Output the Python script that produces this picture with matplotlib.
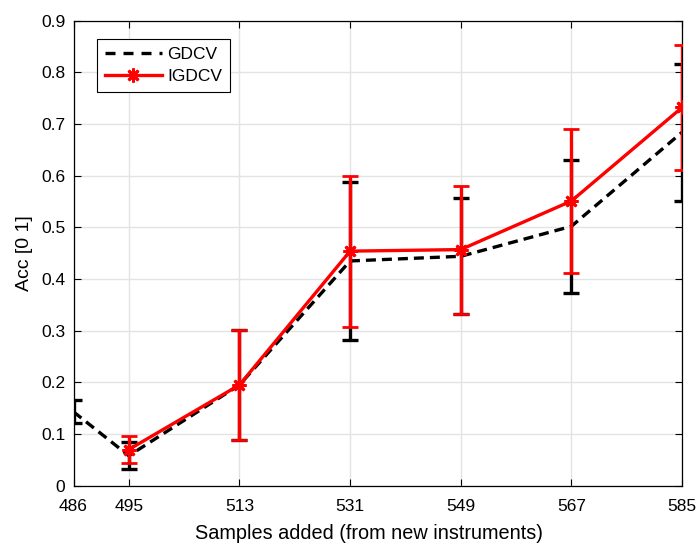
import matplotlib
matplotlib.use("Agg")
import matplotlib.pyplot as plt
from matplotlib.lines import Line2D

plt.rcParams['font.family'] = ['Liberation Sans', 'DejaVu Sans']

x_gdcv = [486, 495, 513, 531, 549, 567, 585]
gdcv = [0.143, 0.058, 0.195, 0.435, 0.444, 0.502, 0.684]
gdcv_err = [0.022, 0.026, 0.106, 0.153, 0.112, 0.129, 0.133]

x_igdcv = [495, 513, 531, 549, 567, 585]
igdcv = [0.070, 0.195, 0.454, 0.457, 0.551, 0.732]
igdcv_err = [0.027, 0.106, 0.146, 0.124, 0.140, 0.121]

xticks = [486, 495, 513, 531, 549, 567, 585]

W, H = 699, 548
L, R, T, B = 73.5, 682, 20.7, 485.7
fig = plt.figure(figsize=(W/100, H/100), dpi=100)
ax = fig.add_axes([L/W, 1-B/H, (R-L)/W, (B-T)/H])

LW = 2.4
ax.errorbar(x_gdcv, gdcv, yerr=gdcv_err, color='black', linestyle='--', linewidth=LW,
            dashes=(3, 1.8), capsize=5.5, capthick=LW, elinewidth=LW, zorder=3)
ax.errorbar(x_igdcv, igdcv, yerr=igdcv_err, color='#ff0000', linestyle='-', linewidth=LW,
            marker=(8, 2, 0), markersize=10, markeredgewidth=2, capsize=5.5, capthick=LW,
            elinewidth=LW, zorder=4)

ax.set_xlim(486, 585)
ax.set_ylim(0, 0.9)
ax.set_xticks(xticks)
ax.set_yticks([i/10 for i in range(10)])
ax.set_yticklabels(['0'] + ['%.1f' % (i/10) for i in range(1, 10)])
ax.grid(True, color='#e3e3e3', linewidth=1)
ax.set_axisbelow(True)
ax.tick_params(direction='in', top=True, right=True, labelsize=12.5, length=5, width=0.8)
ax.tick_params(axis='x', pad=9.5)
ax.tick_params(axis='y', pad=6)
for s in ax.spines.values():
    s.set_linewidth(0.9)
ax.set_xlabel('Samples added (from new instruments)', fontsize=14.3, va='top')
ax.xaxis.set_label_coords(0.485, -0.082)
ax.set_ylabel('Acc [0 1]', fontsize=14)
ax.yaxis.set_label_coords(-0.0666, 0.5)

handles = [Line2D([], [], color='black', linestyle='--', linewidth=LW, dashes=(3, 2.4)),
           Line2D([], [], color='#ff0000', linestyle='-', linewidth=LW, marker=(8, 2, 0),
                  markersize=10, markeredgewidth=2)]
leg = ax.legend(handles, ['GDCV', 'IGDCV'], loc='upper left',
                bbox_to_anchor=((96.7-L)/(R-L), 1-(39-T)/(B-T)), fontsize=12.5,
                fancybox=False, edgecolor='black', framealpha=1, handlelength=3.3,
                borderpad=0.45, labelspacing=0.38, handletextpad=0.3, borderaxespad=0)
leg.get_frame().set_linewidth(0.8)

fig.savefig('out.png', dpi=100)
